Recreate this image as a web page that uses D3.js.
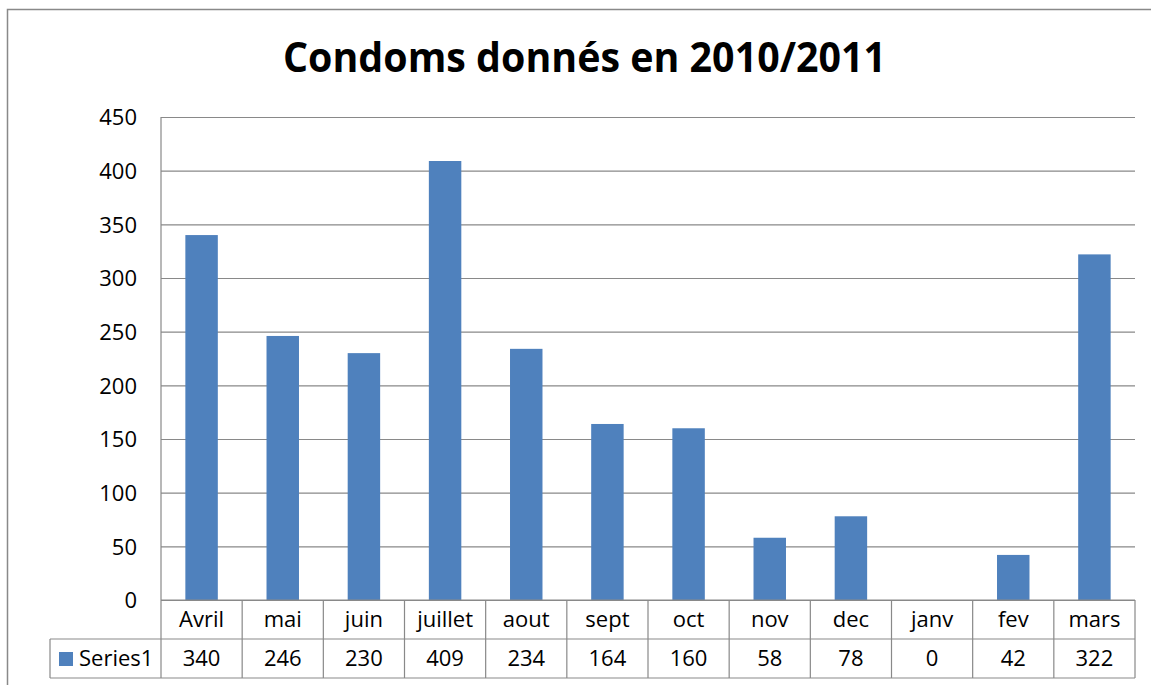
<!DOCTYPE html>
<html>
<head>
<meta charset="utf-8">
<script src="https://cdn.jsdelivr.net/npm/d3@7"></script>
<style>
body { margin: 0; background: #fff; }
text { font-family: "Open Sans", "DejaVu Sans", sans-serif; fill: #000; }
</style>
</head>
<body>
<div id="chart"></div>
<script>
var months = ["Avril", "mai", "juin", "juillet", "aout", "sept", "oct", "nov", "dec", "janv", "fev", "mars"];
var values = [340, 246, 230, 409, 234, 164, 160, 58, 78, 0, 42, 322];
var yTicks = [0, 50, 100, 150, 200, 250, 300, 350, 400, 450];
var seriesName = "Series1";
var chartTitle = "Condoms donnés en 2010/2011";

var width = 1151, height = 685;
var plotLeft = 161, plotRight = 1135, plotTop = 117, plotBottom = 600;
var rowH = 39;
var gridColour = "#898989";
var barColour = "#4F81BD";

var svg = d3.select("#chart").append("svg")
	.attr("width", width)
	.attr("height", height);

// outer chart border (right and bottom fall outside the picture)
svg.append("rect")
	.attr("x", 7.5).attr("y", 9.5)
	.attr("width", 1200).attr("height", 700)
	.attr("fill", "none")
	.attr("stroke", gridColour)
	.attr("stroke-width", 1.5);

svg.append("text")
	.attr("x", (283 + 886) / 2)
	.attr("y", 72)
	.attr("text-anchor", "middle")
	.attr("font-size", 41)
	.attr("font-weight", "bold")
	.attr("textLength", 603)
	.attr("lengthAdjust", "spacingAndGlyphs")
	.text(chartTitle);

var x = d3.scaleBand()
	.domain(months)
	.range([plotLeft, plotRight])
	.paddingInner(0.6)
	.paddingOuter(0.3);

var col = d3.scaleBand()
	.domain(months)
	.range([plotLeft, plotRight]);

var y = d3.scaleLinear()
	.domain([0, 450])
	.range([plotBottom, plotTop]);

// gridlines
var grid = svg.append("g")
	.attr("transform", "translate(" + plotLeft + ",0)")
	.call(d3.axisLeft(y).tickValues(yTicks).tickSize(-(plotRight - plotLeft)).tickFormat(""));
grid.select(".domain").remove();
grid.selectAll("line").attr("stroke", gridColour).attr("stroke-width", 1.2);

// tick labels
var yAxis = svg.append("g")
	.attr("transform", "translate(" + (plotLeft - 24) + ",0)")
	.call(d3.axisLeft(y).tickValues(yTicks).tickSize(0).tickPadding(0));
yAxis.select(".domain").remove();
yAxis.selectAll("text")
	.attr("font-size", 22)
	.attr("font-family", "'Open Sans', sans-serif")
	.attr("fill", "#000")
	.attr("dy", "0.36em");

// bars
svg.append("g")
	.selectAll("rect")
	.data(values)
	.enter()
	.append("rect")
	.attr("x", function(d, i) { return x(months[i]); })
	.attr("width", x.bandwidth())
	.attr("y", function(d) { return y(d); })
	.attr("height", function(d) { return y(0) - y(d); })
	.attr("fill", barColour);

// data table
var tbl = svg.append("g").attr("stroke", gridColour).attr("stroke-width", 1.2).attr("fill", "none");
// vertical axis line down through the table
tbl.append("line").attr("x1", plotLeft).attr("x2", plotLeft).attr("y1", plotTop).attr("y2", plotBottom + 2 * rowH);
tbl.selectAll("line.col")
	.data(months)
	.enter()
	.append("line")
	.attr("class", "col")
	.attr("x1", function(d) { return col(d) + col.bandwidth(); })
	.attr("x2", function(d) { return col(d) + col.bandwidth(); })
	.attr("y1", plotBottom)
	.attr("y2", plotBottom + 2 * rowH);
tbl.append("line").attr("x1", plotLeft).attr("x2", plotRight).attr("y1", plotBottom).attr("y2", plotBottom);
tbl.append("line").attr("x1", 50).attr("x2", plotRight).attr("y1", plotBottom + rowH).attr("y2", plotBottom + rowH);
tbl.append("line").attr("x1", 50).attr("x2", plotRight).attr("y1", plotBottom + 2 * rowH).attr("y2", plotBottom + 2 * rowH);
tbl.append("line").attr("x1", 50).attr("x2", 50).attr("y1", plotBottom + rowH).attr("y2", plotBottom + 2 * rowH);

svg.append("g")
	.selectAll("text")
	.data(months)
	.enter()
	.append("text")
	.attr("x", function(d) { return col(d) + col.bandwidth() / 2; })
	.attr("y", plotBottom + rowH / 2)
	.attr("dy", "0.36em")
	.attr("text-anchor", "middle")
	.attr("font-size", 22)
	.text(function(d) { return d; });

svg.append("g")
	.selectAll("text")
	.data(values)
	.enter()
	.append("text")
	.attr("x", function(d, i) { return col(months[i]) + col.bandwidth() / 2; })
	.attr("y", plotBottom + rowH * 1.5)
	.attr("dy", "0.36em")
	.attr("text-anchor", "middle")
	.attr("font-size", 22)
	.text(function(d) { return d; });

// legend key in the table
svg.append("rect")
	.attr("x", 59).attr("y", 652)
	.attr("width", 14).attr("height", 14)
	.attr("fill", barColour);
svg.append("text")
	.attr("x", 79)
	.attr("y", plotBottom + rowH * 1.5)
	.attr("dy", "0.36em")
	.attr("font-size", 22)
	.text(seriesName);
</script>
</body>
</html>
